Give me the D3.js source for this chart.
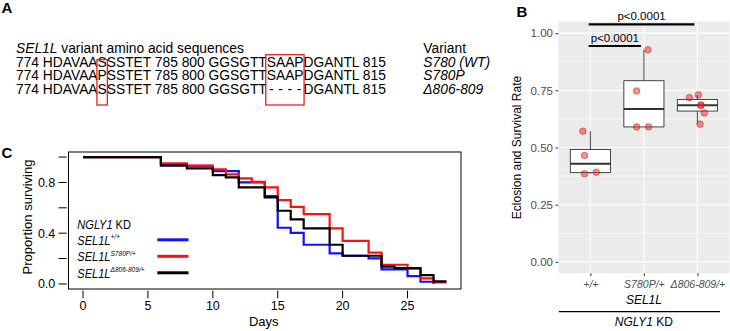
<!DOCTYPE html>
<html>
<head>
<meta charset="utf-8">
<script src="https://cdn.jsdelivr.net/npm/d3@7"></script>
<style>
body { margin: 0; background: #fff; }
svg { display: block; font-family: Arial, "Liberation Sans", sans-serif; }
</style>
</head>
<body>
<svg id="fig" width="730" height="331"></svg>
<script>
// ---- panel A: sequences
const seqTitle = "variant amino acid sequences";
const seqRows = [
    "774 HDAVAASSSTET 785 800 GGSGTTSAAPDGANTL 815",
    "774 HDAVAAPSSTET 785 800 GGSGTTSAAPDGANTL 815",
    "774 HDAVAASSSTET 785 800 GGSGTT"
];
const seqTail = "DGANTL 815";
const variantNames = ["S780 (WT)", "S780P", "Δ806-809"];

// ---- panel B: eclosion / survival
const genotypes = ["+/+", "S780P/+", "Δ806-809/+"];
const rateWT = [0.571, 0.465, 0.385, 0.392];
const rateS780P = [0.927, 0.747, 0.59, 0.59];
const rateDel = [0.718, 0.73, 0.684, 0.686, 0.651, 0.602];
const jitterWT = [-0.14, -0.11, -0.11, 0.11];
const jitterS780P = [0.075, -0.136, -0.136, 0.088];
const jitterDel = [-0.149, 0.019, 0.063, 0.069, 0.13, 0.05];
const yTicksB = [0, 0.25, 0.5, 0.75, 1];
const pairs = [["+/+", "Δ806-809/+", "p<0.0001"], ["+/+", "S780P/+", "p<0.0001"]];

// ---- panel C: survival curves
const daysBlue = [0, 6, 8, 10, 12, 14, 15, 16, 17, 19, 20, 22, 23, 25, 26, 27];
const survBlue = [1, 0.945, 0.93, 0.89, 0.80, 0.693, 0.443, 0.403, 0.309, 0.241, 0.222, 0.202, 0.115, 0.062, 0.017, 0];
const daysRed = [0, 6, 8, 10, 11, 12, 13, 14, 15, 16, 17, 19, 20, 22, 23, 25, 26, 27, 28];
const survRed = [1, 0.95, 0.932, 0.903, 0.864, 0.832, 0.805, 0.761, 0.661, 0.608, 0.551, 0.438, 0.340, 0.246, 0.151, 0.120, 0.044, 0.013, 0.013];
const daysBlack = [0, 6, 8, 10, 11, 12, 14, 15, 16, 17, 19, 20, 23, 24, 26, 27, 28];
const survBlack = [1, 0.932, 0.911, 0.858, 0.840, 0.761, 0.682, 0.577, 0.509, 0.438, 0.309, 0.222, 0.136, 0.125, 0.070, 0.020, 0.020];
const xTicksC = [0, 5, 10, 15, 20, 25];
const yTicksC = [0, 0.2, 0.4, 0.6, 0.8, 1];
const legendSups = ["+/+", "S780P/+", "Δ806-809/+"];

const svg = d3.select("#fig");

// panel letters
[["A", 1.5, 13], ["B", 516.5, 16.7], ["C", 1.5, 158.3]].forEach(d => {
    svg.append("text").attr("x", d[1]).attr("y", d[2])
        .style("font-size", "15px").style("font-weight", "bold").text(d[0]);
});

// ================= A
function drawSequences() {
    const g = svg.append("g").style("font-size", "13.8px");
    const x0 = 16;
    const t = g.append("text").attr("x", x0).attr("y", 53.3);
    t.append("tspan").style("font-style", "italic").text("SEL1L");
    t.append("tspan").text(" " + seqTitle);

    const rowY = [66.9, 80.2, 93.5];
    const rows = seqRows.map((s, i) => g.append("text").attr("x", x0).attr("y", rowY[i]).text(s));

    const r0 = rows[0].node();
    const sStart = r0.getStartPositionOfChar(10).x, sEnd = r0.getEndPositionOfChar(10).x;
    const aStart = r0.getStartPositionOfChar(31).x, aEnd = r0.getEndPositionOfChar(34).x;
    const dStart = r0.getStartPositionOfChar(35).x;

    // deletion row
    const dashW = (aEnd - aStart) / 4;
    d3.range(4).forEach(i => {
        g.append("text").attr("x", aStart + dashW * (i + 0.5)).attr("y", rowY[2])
            .attr("text-anchor", "middle").text("-");
    });
    g.append("text").attr("x", dStart).attr("y", rowY[2]).text(seqTail);

    g.append("text").attr("x", 423.3).attr("y", 53.3).text("Variant");
    variantNames.forEach((v, i) => {
        g.append("text").attr("x", 423.3).attr("y", rowY[i])
            .style("font-style", "italic").text(v);
    });

    g.append("rect").attr("x", sStart - 0.6).attr("y", 59.7)
        .attr("width", sEnd - sStart + 1.2).attr("height", 45.3)
        .attr("fill", "none").attr("stroke", "#e8211d").attr("stroke-width", 1.3);
    g.append("rect").attr("x", aStart - 1).attr("y", 54.7)
        .attr("width", aEnd - aStart + 1.5).attr("height", 50.3)
        .attr("fill", "none").attr("stroke", "#e8211d").attr("stroke-width", 1.3);
}
drawSequences();

// ================= B
function drawBoxplot() {
    const left = 558.3, right = 729.5, top = 21.7, bottom = 273.3;
    const x = d3.scalePoint().domain(genotypes).range([left, right]).padding(0.6);
    const bw = x.step();
    const y = d3.scaleLinear().domain([-0.05, 1.05]).range([bottom, top]);

    svg.append("rect").attr("x", left).attr("y", top)
        .attr("width", right - left).attr("height", bottom - top).attr("fill", "#ebebeb");

    const minor = [0.125, 0.375, 0.625, 0.875];
    svg.selectAll(".minorB").data(minor).enter().append("line")
        .attr("x1", left).attr("x2", right).attr("y1", d => y(d)).attr("y2", d => y(d))
        .attr("stroke", "#fff").attr("stroke-width", 0.55);
    svg.selectAll(".majorB").data(yTicksB).enter().append("line")
        .attr("x1", left).attr("x2", right).attr("y1", d => y(d)).attr("y2", d => y(d))
        .attr("stroke", "#fff").attr("stroke-width", 1.1);
    svg.selectAll(".vgridB").data(genotypes).enter().append("line")
        .attr("x1", d => x(d)).attr("x2", d => x(d)).attr("y1", top).attr("y2", bottom)
        .attr("stroke", "#fff").attr("stroke-width", 1.1);

    // axes
    const ya = svg.append("g").attr("transform", `translate(${left},0)`)
        .call(d3.axisLeft(y).tickValues(yTicksB).tickFormat(d3.format(".2f")).tickSize(2.8).tickPadding(2.5));
    ya.select(".domain").remove();
    ya.selectAll("line").attr("stroke", "#333").attr("stroke-width", 1);
    ya.selectAll("text").attr("fill", "#4d4d4d").style("font-size", "11.5px").style("font-family", "Arial, 'Liberation Sans', sans-serif");

    const xa = svg.append("g").attr("transform", `translate(0,${bottom})`)
        .call(d3.axisBottom(x).tickSize(2.8).tickPadding(4));
    xa.select(".domain").remove();
    xa.selectAll("line").attr("stroke", "#333").attr("stroke-width", 1);
    xa.selectAll("text").attr("fill", "#4d4d4d").style("font-size", "10.5px")
        .style("font-style", "italic").style("font-family", "Arial, 'Liberation Sans', sans-serif");

    svg.append("text").attr("transform", `translate(521,${(top + bottom) / 2}) rotate(-90)`)
        .attr("text-anchor", "middle").style("font-size", "12px").text("Eclosion and Survival Rate");
    svg.append("text").attr("x", x(genotypes[1])).attr("y", 303.8).attr("text-anchor", "middle")
        .style("font-size", "12px").style("font-style", "italic").text("SEL1L");
    svg.append("line").attr("x1", 559).attr("x2", 720).attr("y1", 311.7).attr("y2", 311.7)
        .attr("stroke", "#000").attr("stroke-width", 1.2);
    const kd = svg.append("text").attr("x", x(genotypes[1])).attr("y", 326.2)
        .attr("text-anchor", "middle").style("font-size", "12px");
    kd.append("tspan").style("font-style", "italic").text("NGLY1");
    kd.append("tspan").text(" KD");

    const groups = [
        { key: genotypes[0], vals: rateWT, jit: jitterWT },
        { key: genotypes[1], vals: rateS780P, jit: jitterS780P },
        { key: genotypes[2], vals: rateDel, jit: jitterDel }
    ];
    const half = bw * 0.375;
    groups.forEach(gr => {
        const s = gr.vals.slice().sort(d3.ascending);
        const q1 = d3.quantile(s, 0.25), med = d3.quantile(s, 0.5), q3 = d3.quantile(s, 0.75);
        const iqr = q3 - q1;
        const lo = d3.min(s.filter(v => v >= q1 - 1.5 * iqr));
        const hi = d3.max(s.filter(v => v <= q3 + 1.5 * iqr));
        const cx = x(gr.key);
        svg.append("line").attr("x1", cx).attr("x2", cx).attr("y1", y(q3)).attr("y2", y(hi))
            .attr("stroke", "#333").attr("stroke-width", 0.9);
        svg.append("line").attr("x1", cx).attr("x2", cx).attr("y1", y(q1)).attr("y2", y(lo))
            .attr("stroke", "#333").attr("stroke-width", 0.9);
        svg.append("rect").attr("x", cx - half).attr("y", y(q3))
            .attr("width", half * 2).attr("height", y(q1) - y(q3))
            .attr("fill", "#fff").attr("stroke", "#333").attr("stroke-width", 0.9);
        svg.append("line").attr("x1", cx - half).attr("x2", cx + half).attr("y1", y(med)).attr("y2", y(med))
            .attr("stroke", "#333").attr("stroke-width", 2);
        gr.vals.forEach((v, i) => {
            svg.append("circle").attr("cx", cx + gr.jit[i] * bw).attr("cy", y(v)).attr("r", 3.3)
                .attr("fill", "#ff1a1a").attr("fill-opacity", 0.5)
                .attr("stroke", "#8a2020").attr("stroke-opacity", 0.55).attr("stroke-width", 0.8);
        });
    });

    // significance bars
    const barY = [24.3, 46];
    pairs.forEach((p, i) => {
        const x1 = x(p[0]) - 1.7, x2 = x(p[1]) - 3;
        svg.append("line").attr("x1", x1).attr("x2", x2).attr("y1", barY[i]).attr("y2", barY[i])
            .attr("stroke", "#000").attr("stroke-width", 2.2);
        svg.append("text").attr("x", (x1 + x2) / 2).attr("y", barY[i] - 4.3)
            .attr("text-anchor", "middle").style("font-size", "11.5px").text(p[2]);
    });
}
drawBoxplot();

// ================= C
function drawSurvival() {
    const left = 68.5, right = 461, top = 152, bottom = 289;
    const x = d3.scaleLinear().domain([-1.12, 29.12]).range([left, right]);
    const y = d3.scaleLinear().domain([-0.04, 1.04]).range([bottom, top]);

    svg.append("rect").attr("x", left).attr("y", top)
        .attr("width", right - left).attr("height", bottom - top)
        .attr("fill", "none").attr("stroke", "#000").attr("stroke-width", 1);

    svg.selectAll(".xtC").data(xTicksC).enter().append("line")
        .attr("x1", d => x(d)).attr("x2", d => x(d)).attr("y1", bottom + 1.6).attr("y2", bottom + 9.3)
        .attr("stroke", "#000");
    svg.selectAll(".xlC").data(xTicksC).enter().append("text")
        .attr("x", d => x(d)).attr("y", 309.8).attr("text-anchor", "middle")
        .style("font-size", "12.5px").text(d => d);
    svg.selectAll(".ytC").data(yTicksC).enter().append("line")
        .attr("x1", left - 1.8).attr("x2", left - 10).attr("y1", d => y(d)).attr("y2", d => y(d))
        .attr("stroke", "#000");
    svg.selectAll(".ylC").data(yTicksC.filter((d, i) => i % 2 === 0)).enter().append("text")
        .attr("x", 55.3).attr("y", d => y(d)).attr("dy", "0.36em").attr("text-anchor", "end")
        .style("font-size", "12.5px").text(d => d.toFixed(1));

    svg.append("text").attr("x", 263.7).attr("y", 326).attr("text-anchor", "middle")
        .style("font-size", "13px").text("Days");
    svg.append("text").attr("transform", "translate(32,217) rotate(-90)")
        .attr("text-anchor", "middle").style("font-size", "13px").text("Proportion surviving");

    const series = [
        { days: daysBlue, surv: survBlue, color: "#1010ff" },
        { days: daysRed, surv: survRed, color: "#ff1010" },
        { days: daysBlack, surv: survBlack, color: "#000" }
    ];
    const line = d3.line().x(d => x(d[0])).y(d => y(d[1])).curve(d3.curveStepAfter);
    series.forEach(s => {
        svg.append("path").datum(d3.zip(s.days, s.surv))
            .attr("fill", "none").attr("stroke", s.color).attr("stroke-width", 2.2)
            .attr("d", line);
    });

    // legend (text a bit condensed, like the original)
    const lg = svg.append("g").attr("transform", "translate(77.3,0) scale(0.82,1)")
        .style("font-size", "13.5px");
    const kd = lg.append("text").attr("x", 0).attr("y", 228.7);
    kd.append("tspan").style("font-style", "italic").text("NGLY1");
    kd.append("tspan").text(" KD");
    const legY = [245, 261.5, 278];
    legendSups.forEach((sup, i) => {
        const t = lg.append("text").attr("x", 0).attr("y", legY[i]).style("font-style", "italic");
        t.append("tspan").text("SEL1L");
        t.append("tspan").attr("dy", -5.5).style("font-size", "8px").text(sup);
        svg.append("line").attr("x1", 157.3).attr("x2", 188.5)
            .attr("y1", legY[i] - 5.2).attr("y2", legY[i] - 5.2)
            .attr("stroke", series[i].color).attr("stroke-width", 3);
    });
}
drawSurvival();
</script>
</body>
</html>
